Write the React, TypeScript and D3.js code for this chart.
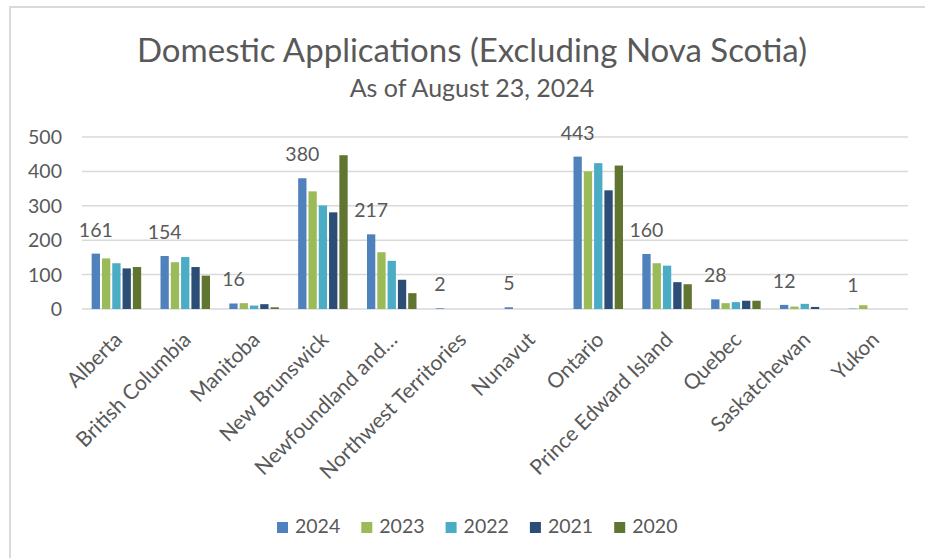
import React from "react";
import * as d3 from "d3";

const categories = [
  "Alberta",
  "British Columbia",
  "Manitoba",
  "New Brunswick",
  "Newfoundland and…",
  "Northwest Territories",
  "Nunavut",
  "Ontario",
  "Prince Edward Island",
  "Quebec",
  "Saskatchewan",
  "Yukon",
];

const seriesNames = ["2024", "2023", "2022", "2021", "2020"];

const values2024 = [161, 154, 16, 380, 217, 2, 5, 443, 160, 28, 12, 1];
const values2023 = [147, 136, 17, 342, 165, 0, 0, 400, 133, 17, 7, 11];
const values2022 = [133, 151, 10, 301, 140, 0, 0, 424, 126, 20, 15, 0];
const values2021 = [118, 122, 14, 281, 85, 0, 0, 345, 78, 24, 6, 0];
const values2020 = [122, 97, 5, 447, 46, 0, 0, 417, 72, 24, 0, 0];

const yTicks = [0, 100, 200, 300, 400, 500];

const seriesValues = [values2024, values2023, values2022, values2021, values2020];
const colors = ["#4F81BD", "#9BBB59", "#4BACC6", "#2C4D75", "#5F7530"];

const W = 925;
const H = 558;
const FONT = "Lato, 'Open Sans', sans-serif";
const TEXT = "#595959";

export default function App() {
  const x0 = d3.scaleBand<string>().domain(categories).range([82, 908]).padding(0);
  const x1 = d3
    .scaleBand<string>()
    .domain(seriesNames)
    .range([-24.75, 24.75])
    .paddingInner(0.194)
    .paddingOuter(0);
  const y = d3.scaleLinear().domain([0, 500]).range([309, 137]);

  const legendStart = 277;
  const legendStride = 84.3;

  return (
    <svg
      width={W}
      height={H}
      style={{ position: "absolute", left: 0, top: 0, background: "#fff" }}
      fontFamily={FONT}
    >
      <rect x={0} y={0} width={W} height={H} fill="#fff" />
      {/* border fragments */}
      <line x1={9} y1={7} x2={W} y2={7} stroke="#D9D9D9" strokeWidth={2} />
      <line x1={10} y1={7} x2={10} y2={H} stroke="#D9D9D9" strokeWidth={2} />

      {/* title */}
      <text x={472} y={62} textAnchor="middle" fontSize={33} fill={TEXT}>
        Domestic Applications (Excluding Nova Scotia)
      </text>
      <text x={472} y={97} textAnchor="middle" fontSize={25} fill={TEXT}>
        As of August 23, 2024
      </text>

      {/* gridlines */}
      {yTicks.map((t) => (
        <g key={t}>
          <line x1={82} x2={908} y1={y(t)} y2={y(t)} stroke="#D9D9D9" strokeWidth={1.5} />
          <text x={62} y={y(t) + 7} textAnchor="end" fontSize={19.5} fill={TEXT}>
            {t}
          </text>
        </g>
      ))}

      {/* bars */}
      {categories.map((c, ci) => {
        const cx = (x0(c) as number) + x0.bandwidth() / 2;
        return (
          <g key={c}>
            {seriesNames.map((s, si) => {
              const v = seriesValues[si][ci];
              const bx = cx + (x1(s) as number);
              return (
                <rect
                  key={s}
                  x={bx}
                  y={y(v)}
                  width={x1.bandwidth()}
                  height={y(0) - y(v)}
                  fill={colors[si]}
                />
              );
            })}
            <text
              x={cx + (x1("2024") as number) + x1.bandwidth() / 2}
              y={y(values2024[ci]) - 17}
              textAnchor="middle"
              fontSize={19.5}
              fill={TEXT}
            >
              {values2024[ci]}
            </text>
            <text
              transform={`translate(${cx + 7},${341}) rotate(-45)`}
              textAnchor="end"
              fontSize={21}
              fill={TEXT}
            >
              {c}
            </text>
          </g>
        );
      })}

      {/* legend */}
      {seriesNames.map((s, i) => (
        <g key={s} transform={`translate(${legendStart + i * legendStride},0)`}>
          <rect x={0} y={522} width={11} height={11} fill={colors[i]} />
          <text x={18} y={533} fontSize={19.5} fill={TEXT}>
            {s}
          </text>
        </g>
      ))}
    </svg>
  );
}
